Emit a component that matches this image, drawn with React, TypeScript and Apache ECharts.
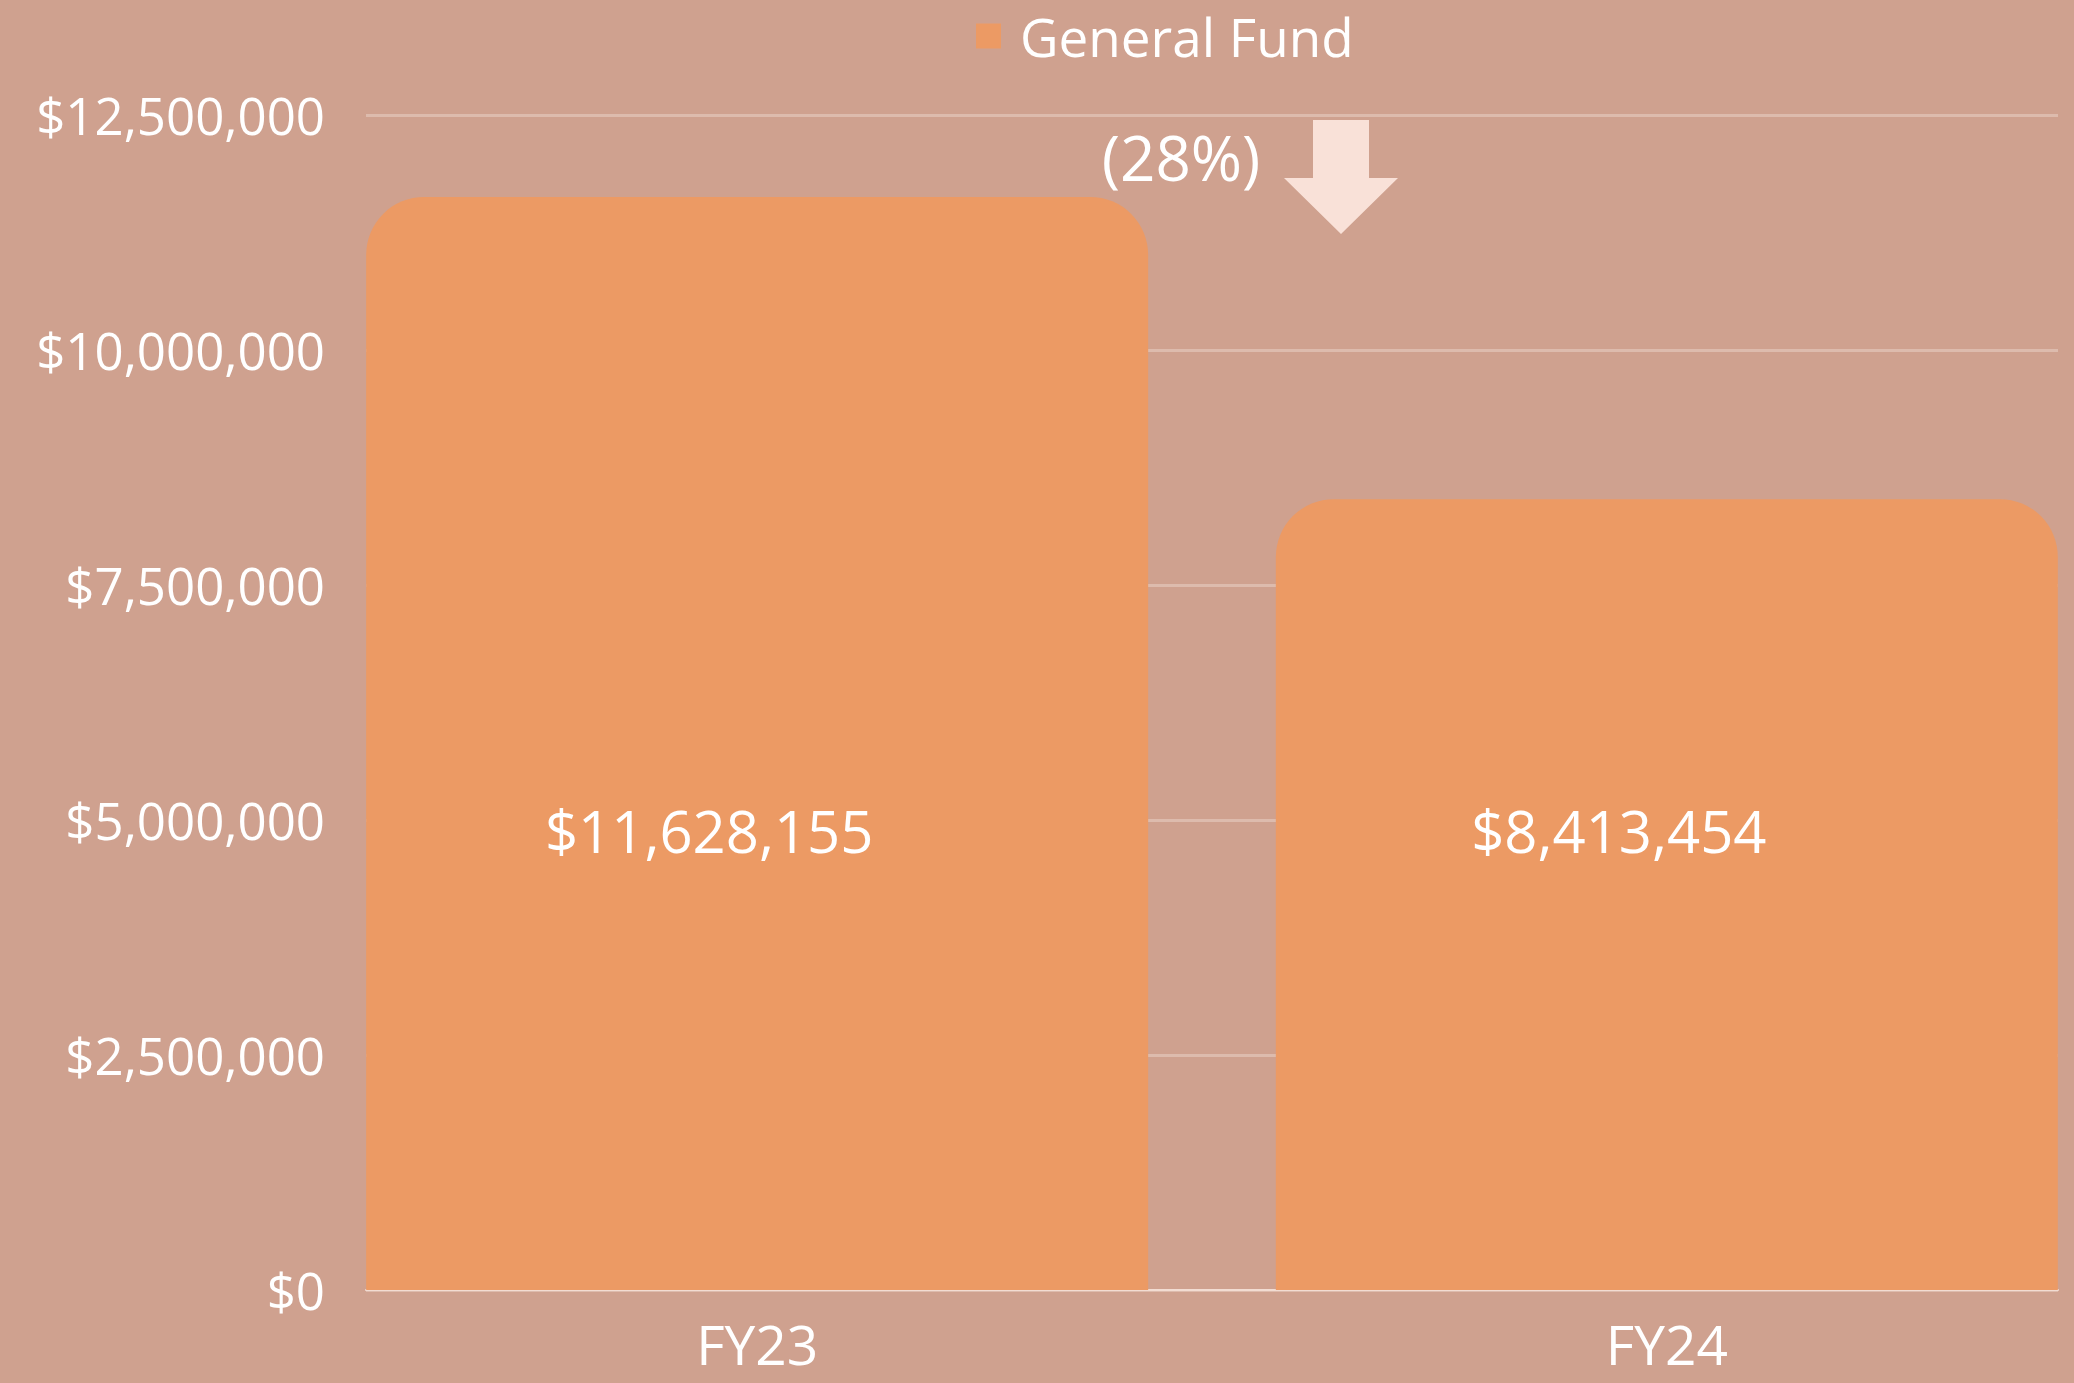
import React, { useEffect, useRef } from "react";
import * as echarts from "echarts";

const categories = ["FY23", "FY24"];
const generalFund = [11628155, 8413454];
const yTicks = [0, 2500000, 5000000, 7500000, 10000000, 12500000];
const changeLabel = "(28%)";
const seriesName = "General Fund";

const BG = "#CFA18F";
const BAR = "#EC9A64";
const FONT = "'Open Sans', 'DejaVu Sans', sans-serif";

const fmt = (v: number) => "$" + Math.round(v).toLocaleString("en-US");

export default function App() {
  const ref = useRef<HTMLDivElement>(null);
  useEffect(() => {
    if (!ref.current) return;
    document.body.style.margin = "0";
    const chart = echarts.init(ref.current, undefined, { renderer: "svg" });
    const yMax = yTicks[yTicks.length - 1];
    const interval = yTicks[1] - yTicks[0];
    const barData = generalFund.map((v, i) => [i, v]);
    chart.setOption({
      animation: false,
      backgroundColor: BG,
      textStyle: { fontFamily: FONT },
      legend: {
        data: [seriesName],
        left: 976,
        top: 9,
        padding: 0,
        itemWidth: 25,
        itemHeight: 25,
        icon: "rect",
        textStyle: { color: "#FFFFFF", fontSize: 53, fontFamily: FONT, lineHeight: 54, padding: [0, 0, 0, 14] },
      },
      grid: { left: 366, right: 16, top: 115, height: 1175 },
      xAxis: {
        type: "value",
        min: -0.43,
        max: 1.43,
        axisLine: { show: true, onZero: false, lineStyle: { color: "#F2DCD2", width: 2 } },
        axisTick: { show: false },
        splitLine: { show: false },
        axisLabel: {
          customValues: categories.map((_, i) => i),
          formatter: (v: number) => categories[Math.round(v)] ?? "",
          color: "#FFFFFF",
          fontSize: 55,
          fontFamily: FONT,
          margin: 26,
        },
      },
      yAxis: {
        type: "value",
        min: 0,
        max: yMax,
        interval,
        axisLine: { show: false },
        axisTick: { show: false },
        axisLabel: { color: "#FFFFFF", fontSize: 51, fontFamily: FONT, margin: 41, formatter: (v: number) => fmt(v) },
        splitLine: { show: true, lineStyle: { color: "#DDBBAD", width: 3 } },
      },
      series: [
        {
          name: seriesName,
          type: "bar",
          data: barData,
          barWidth: 782,
          itemStyle: { color: BAR, borderRadius: [58, 58, 0, 0] },
          label: {
            show: true,
            position: "insideBottom",
            distance: 431,
            offset: [-48, 0],
            color: "#FFFFFF",
            fontSize: 58,
            lineHeight: 58,
            fontFamily: FONT,
            formatter: (p: any) => fmt(p.value[1]),
          },
        },
      ],
      graphic: [
        {
          type: "text",
          x: 1181,
          y: 157,
          style: {
            text: changeLabel,
            fill: "#FFFFFF",
            font: `62px ${FONT}`,
            textAlign: "center",
            textVerticalAlign: "middle",
          },
        },
        {
          type: "polygon",
          shape: {
            points: [
              [1313, 120],
              [1369, 120],
              [1369, 178],
              [1398, 178],
              [1341, 234],
              [1284, 178],
              [1313, 178],
            ],
          },
          style: { fill: "#F9E1D8" },
        },
      ],
    });
    return () => chart.dispose();
  }, []);
  return <div ref={ref} style={{ position: "absolute", left: 0, top: 0, width: 2074, height: 1383 }} />;
}
